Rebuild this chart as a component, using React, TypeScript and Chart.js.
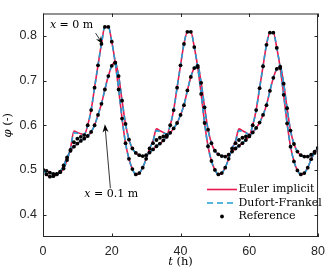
import React, { useEffect, useRef } from 'react';
import { Chart, registerables } from 'chart.js';

Chart.register(...registerables);

// time (h)
const hours = [
  0, 1, 2, 3, 4, 5, 6, 7, 8, 9, 10, 11, 12, 13, 14, 15, 16, 17, 18, 19, 20,
  21, 22, 23, 24, 25, 26, 27, 28, 29, 30, 31, 32, 33, 34, 35, 36, 37, 38, 39, 40,
  41, 42, 43, 44, 45, 46, 47, 48, 49, 50, 51, 52, 53, 54, 55, 56, 57, 58, 59, 60,
  61, 62, 63, 64, 65, 66, 67, 68, 69, 70, 71, 72, 73, 74, 75, 76, 77, 78, 79, 80,
];

// x = 0 m : reference
const refA = [
  0.500, 0.490, 0.485, 0.486, 0.490, 0.495, 0.503, 0.522, 0.545, 0.562, 0.570,
  0.574, 0.578, 0.600, 0.634, 0.684, 0.734, 0.782, 0.820, 0.820, 0.787,
  0.740, 0.680, 0.615, 0.560, 0.525, 0.502, 0.490, 0.493, 0.505, 0.525,
  0.548, 0.560, 0.567, 0.572, 0.575, 0.578, 0.600, 0.634, 0.684, 0.734,
  0.782, 0.809, 0.809, 0.775, 0.730, 0.670, 0.605, 0.553, 0.520, 0.500,
  0.490, 0.493, 0.505, 0.525, 0.548, 0.560, 0.567, 0.572, 0.575, 0.577,
  0.600, 0.634, 0.683, 0.732, 0.780, 0.807, 0.807, 0.773, 0.728, 0.668,
  0.604, 0.552, 0.519, 0.499, 0.490, 0.493, 0.505, 0.524, 0.538, 0.550,
];
// x = 0 m : Euler implicit
const eulerA = [
  0.500, 0.490, 0.485, 0.486, 0.490, 0.495, 0.503, 0.522, 0.548, 0.587, 0.584,
  0.581, 0.579, 0.600, 0.634, 0.684, 0.734, 0.782, 0.820, 0.820, 0.787,
  0.740, 0.680, 0.615, 0.560, 0.525, 0.502, 0.490, 0.493, 0.505, 0.525,
  0.548, 0.565, 0.592, 0.588, 0.584, 0.580, 0.600, 0.634, 0.684, 0.734,
  0.782, 0.809, 0.809, 0.775, 0.730, 0.670, 0.605, 0.553, 0.520, 0.500,
  0.490, 0.493, 0.505, 0.525, 0.548, 0.565, 0.592, 0.588, 0.584, 0.579,
  0.600, 0.634, 0.683, 0.732, 0.780, 0.807, 0.807, 0.773, 0.728, 0.668,
  0.604, 0.552, 0.519, 0.499, 0.490, 0.493, 0.505, 0.524, 0.538, 0.550,
];
// x = 0 m : Dufort-Frankel
const dufortA = [
  0.500, 0.490, 0.485, 0.486, 0.490, 0.495, 0.503, 0.522, 0.547, 0.583, 0.582,
  0.580, 0.579, 0.600, 0.634, 0.684, 0.734, 0.782, 0.820, 0.820, 0.787,
  0.740, 0.680, 0.615, 0.560, 0.525, 0.502, 0.490, 0.493, 0.505, 0.525,
  0.548, 0.564, 0.588, 0.586, 0.583, 0.580, 0.600, 0.634, 0.684, 0.734,
  0.782, 0.809, 0.809, 0.775, 0.730, 0.670, 0.605, 0.553, 0.520, 0.500,
  0.490, 0.493, 0.505, 0.525, 0.548, 0.564, 0.588, 0.586, 0.583, 0.579,
  0.600, 0.634, 0.683, 0.732, 0.780, 0.807, 0.807, 0.773, 0.728, 0.668,
  0.604, 0.552, 0.519, 0.499, 0.490, 0.493, 0.505, 0.524, 0.538, 0.550,
];

// x = 0.1 m : reference
const refB = [
  0.500, 0.498, 0.494, 0.491, 0.491, 0.496, 0.510, 0.528, 0.543, 0.552, 0.559,
  0.565, 0.570, 0.576, 0.585, 0.600, 0.623, 0.648, 0.680, 0.710, 0.733,
  0.740, 0.710, 0.655, 0.603, 0.568, 0.548, 0.538, 0.533, 0.531, 0.533,
  0.539, 0.546, 0.553, 0.559, 0.566, 0.574, 0.583, 0.593, 0.605, 0.623,
  0.645, 0.678, 0.708, 0.728, 0.733, 0.695, 0.640, 0.590, 0.560, 0.543,
  0.535, 0.531, 0.530, 0.534, 0.541, 0.548, 0.554, 0.560, 0.567, 0.575,
  0.584, 0.594, 0.606, 0.623, 0.645, 0.677, 0.706, 0.726, 0.731, 0.693,
  0.638, 0.588, 0.558, 0.541, 0.533, 0.530, 0.530, 0.534, 0.541, 0.548,
];
// x = 0.1 m : Euler implicit
const eulerB = [
  0.500, 0.498, 0.494, 0.491, 0.491, 0.496, 0.510, 0.528, 0.543, 0.552, 0.559,
  0.565, 0.570, 0.576, 0.585, 0.600, 0.623, 0.648, 0.680, 0.710, 0.733,
  0.740, 0.710, 0.655, 0.603, 0.568, 0.548, 0.538, 0.533, 0.531, 0.533,
  0.539, 0.546, 0.553, 0.559, 0.566, 0.574, 0.583, 0.593, 0.605, 0.623,
  0.645, 0.678, 0.708, 0.728, 0.733, 0.695, 0.640, 0.590, 0.560, 0.543,
  0.535, 0.531, 0.530, 0.534, 0.541, 0.548, 0.554, 0.560, 0.567, 0.575,
  0.584, 0.594, 0.606, 0.623, 0.645, 0.677, 0.706, 0.726, 0.731, 0.693,
  0.638, 0.588, 0.558, 0.541, 0.533, 0.530, 0.530, 0.534, 0.541, 0.548,
];
// x = 0.1 m : Dufort-Frankel
const dufortB = [
  0.500, 0.498, 0.494, 0.491, 0.491, 0.496, 0.510, 0.528, 0.543, 0.552, 0.559,
  0.565, 0.570, 0.576, 0.585, 0.600, 0.623, 0.648, 0.680, 0.710, 0.733,
  0.740, 0.710, 0.655, 0.603, 0.568, 0.548, 0.538, 0.533, 0.531, 0.533,
  0.539, 0.546, 0.553, 0.559, 0.566, 0.574, 0.583, 0.593, 0.605, 0.623,
  0.645, 0.678, 0.708, 0.728, 0.733, 0.695, 0.640, 0.590, 0.560, 0.543,
  0.535, 0.531, 0.530, 0.534, 0.541, 0.548, 0.554, 0.560, 0.567, 0.575,
  0.584, 0.594, 0.606, 0.623, 0.645, 0.677, 0.706, 0.726, 0.731, 0.693,
  0.638, 0.588, 0.558, 0.541, 0.533, 0.530, 0.530, 0.534, 0.541, 0.548,
];

const xTicks = [0, 20, 40, 60, 80];
const yTicks = [0.4, 0.5, 0.6, 0.7, 0.8];
const legendLabels = ['Euler implicit', 'Dufort-Frankel', 'Reference'];

// annotations in data units: [t, phi]
const note0Text = [0.02 * 100, 0.823];
const note0Tail = [15.3, 0.806];
const note0Tip = [17.4, 0.781];
const note1Text = [12.0, 0.445];
const note1Tail = [19.6, 0.459];
const note1Tip = [18.0, 0.602];

const RED = '#e8194f';
const BLUE = '#1f9fd4';
const AXIS = '#262626';
const SANS = '"Liberation Sans", Arial, sans-serif';
const SERIF = '"DejaVu Serif", "Liberation Serif", serif';

const pts = (vals: number[]) => hours.map((h, i) => ({ x: h, y: vals[i] }));

function drawArrow(ctx: CanvasRenderingContext2D, x0: number, y0: number, x1: number, y1: number) {
  const ang = Math.atan2(y1 - y0, x1 - x0);
  const L = 8;
  const W = 3;
  ctx.save();
  ctx.strokeStyle = '#000';
  ctx.fillStyle = '#000';
  ctx.lineWidth = 0.8;
  ctx.beginPath();
  ctx.moveTo(x0, y0);
  ctx.lineTo(x1 - Math.cos(ang) * L * 0.6, y1 - Math.sin(ang) * L * 0.6);
  ctx.stroke();
  const bx = x1 - Math.cos(ang) * L;
  const by = y1 - Math.sin(ang) * L;
  const nx = -Math.sin(ang);
  const ny = Math.cos(ang);
  const mx = x1 - Math.cos(ang) * L * 0.7;
  const my = y1 - Math.sin(ang) * L * 0.7;
  ctx.beginPath();
  ctx.moveTo(x1, y1);
  ctx.lineTo(bx + nx * W, by + ny * W);
  ctx.lineTo(mx, my);
  ctx.lineTo(bx - nx * W, by - ny * W);
  ctx.closePath();
  ctx.fill();
  ctx.restore();
}

function drawMixed(ctx: CanvasRenderingContext2D, parts: [string, boolean][], x: number, y: number, size: number, align: 'left' | 'center') {
  ctx.save();
  ctx.textBaseline = 'middle';
  ctx.textAlign = 'left';
  ctx.fillStyle = '#000';
  let total = 0;
  const widths = parts.map(([s, it]) => {
    ctx.font = `${it ? 'italic ' : ''}${size}px ${SERIF}`;
    const w = ctx.measureText(s).width;
    total += w;
    return w;
  });
  let cx = align === 'center' ? x - total / 2 : x;
  parts.forEach(([s, it], i) => {
    ctx.font = `${it ? 'italic ' : ''}${size}px ${SERIF}`;
    ctx.fillText(s, cx, y);
    cx += widths[i];
  });
  ctx.restore();
}

const decor = {
  id: 'decor',
  afterDraw(chart: any) {
    const { ctx, chartArea: a, scales } = chart;
    const xs = scales.x;
    const ys = scales.y;
    ctx.save();
    // frame
    ctx.strokeStyle = AXIS;
    ctx.lineWidth = 1;
    ctx.strokeRect(a.left + 0.5, a.top + 0.5, a.right - a.left - 1, a.bottom - a.top - 1);
    // ticks (inward)
    const tl = 3.5;
    ctx.beginPath();
    xTicks.forEach((v) => {
      const px = Math.round(xs.getPixelForValue(v)) + 0.5;
      ctx.moveTo(px, a.bottom);
      ctx.lineTo(px, a.bottom - tl);
      ctx.moveTo(px, a.top);
      ctx.lineTo(px, a.top + tl);
    });
    yTicks.forEach((v) => {
      const py = Math.round(ys.getPixelForValue(v)) + 0.5;
      ctx.moveTo(a.left, py);
      ctx.lineTo(a.left + tl, py);
      ctx.moveTo(a.right, py);
      ctx.lineTo(a.right - tl, py);
    });
    ctx.stroke();
    ctx.restore();

    // axis titles
    drawMixed(ctx, [['t', true], [' (h)', false]], (a.left + a.right) / 2, 262, 11.5, 'center');
    ctx.save();
    ctx.translate(8, (a.top + a.bottom) / 2);
    ctx.rotate(-Math.PI / 2);
    drawMixed(ctx, [['φ', true], [' (-)', false]], 0, 0, 11.5, 'center');
    ctx.restore();

    // annotations
    const P = (p: number[]) => [xs.getPixelForValue(p[0]), ys.getPixelForValue(p[1])];
    const t0 = P(note0Text);
    drawMixed(ctx, [['x', true], [' = 0 m', false]], t0[0], t0[1], 11, 'left');
    const a0 = P(note0Tail), b0 = P(note0Tip);
    drawArrow(ctx, a0[0], a0[1], b0[0], b0[1]);
    const t1 = P(note1Text);
    drawMixed(ctx, [['x', true], [' = 0.1 m', false]], t1[0], t1[1], 11, 'left');
    const a1 = P(note1Tail), b1 = P(note1Tip);
    drawArrow(ctx, a1[0], a1[1], b1[0], b1[1]);

    // legend
    const lx0 = 207;
    const lx1 = 237;
    const rows = [189.5, 203, 216.5];
    ctx.save();
    ctx.lineWidth = 1.6;
    ctx.strokeStyle = RED;
    ctx.beginPath();
    ctx.moveTo(lx0, rows[0]);
    ctx.lineTo(lx1, rows[0]);
    ctx.stroke();
    ctx.strokeStyle = BLUE;
    ctx.setLineDash([6, 4]);
    ctx.beginPath();
    ctx.moveTo(lx0, rows[1]);
    ctx.lineTo(lx1, rows[1]);
    ctx.stroke();
    ctx.setLineDash([]);
    ctx.fillStyle = '#000';
    ctx.beginPath();
    ctx.arc((lx0 + lx1) / 2, rows[2], 1.9, 0, Math.PI * 2);
    ctx.fill();
    ctx.font = `11px ${SERIF}`;
    ctx.textBaseline = 'middle';
    ctx.textAlign = 'left';
    legendLabels.forEach((s, i) => ctx.fillText(s, lx1 + 1.5, rows[i]));
    ctx.restore();
  },
};

export default function App() {
  const ref = useRef<HTMLCanvasElement | null>(null);
  useEffect(() => {
    if (!ref.current) return;
    const lineBase = { pointRadius: 0, borderWidth: 1.6, fill: false, cubicInterpolationMode: 'monotone' as const };
    const chart = new Chart(ref.current, {
      type: 'line',
      data: {
        datasets: [
          { ...lineBase, label: 'Euler implicit', data: pts(eulerA), borderColor: RED, order: 3 },
          { ...lineBase, label: 'Euler implicit B', data: pts(eulerB), borderColor: RED, order: 3 },
          { ...lineBase, label: 'Dufort-Frankel', data: pts(dufortA), borderColor: BLUE, borderDash: [5, 4], order: 2 },
          { ...lineBase, label: 'Dufort-Frankel B', data: pts(dufortB), borderColor: BLUE, borderDash: [5, 4], order: 2 },
          { label: 'Reference', data: pts(refA), showLine: false, pointRadius: 1.9, pointBackgroundColor: '#000', pointBorderWidth: 0, borderColor: '#000', order: 1 },
          { label: 'Reference B', data: pts(refB), showLine: false, pointRadius: 1.9, pointBackgroundColor: '#000', pointBorderWidth: 0, borderColor: '#000', order: 1 },
        ],
      },
      options: {
        responsive: false,
        animation: false,
        layout: { padding: { top: 2, right: 9, left: 0, bottom: 0 } },
        plugins: { legend: { display: false }, tooltip: { enabled: false } },
        scales: {
          x: {
            type: 'linear',
            min: 0,
            max: 80,
            afterBuildTicks: (s: any) => { s.ticks = xTicks.map((v) => ({ value: v })); },
            afterFit: (s: any) => { s.height = 36; },
            grid: { display: false, drawTicks: false },
            border: { display: false },
            ticks: { autoSkip: false, maxRotation: 0, padding: 7, color: AXIS, font: { family: SANS, size: 12.5 }, callback: (v: any) => String(v) },
          },
          y: {
            type: 'linear',
            min: 0.35,
            max: 0.85,
            afterBuildTicks: (s: any) => { s.ticks = yTicks.map((v) => ({ value: v })); },
            afterFit: (s: any) => { s.width = 43; },
            grid: { display: false, drawTicks: false },
            border: { display: false },
            ticks: { padding: 6, color: AXIS, font: { family: SANS, size: 12.5 }, callback: (v: any) => Number(v).toFixed(1) },
          },
        },
      },
      plugins: [decor],
    });
    return () => chart.destroy();
  }, []);
  return (
    <div style={{ position: 'absolute', left: 0, top: 0, width: 332, height: 273, background: '#fff' }}>
      <canvas ref={ref} width={332} height={273} style={{ width: 332, height: 273 }} />
    </div>
  );
}
